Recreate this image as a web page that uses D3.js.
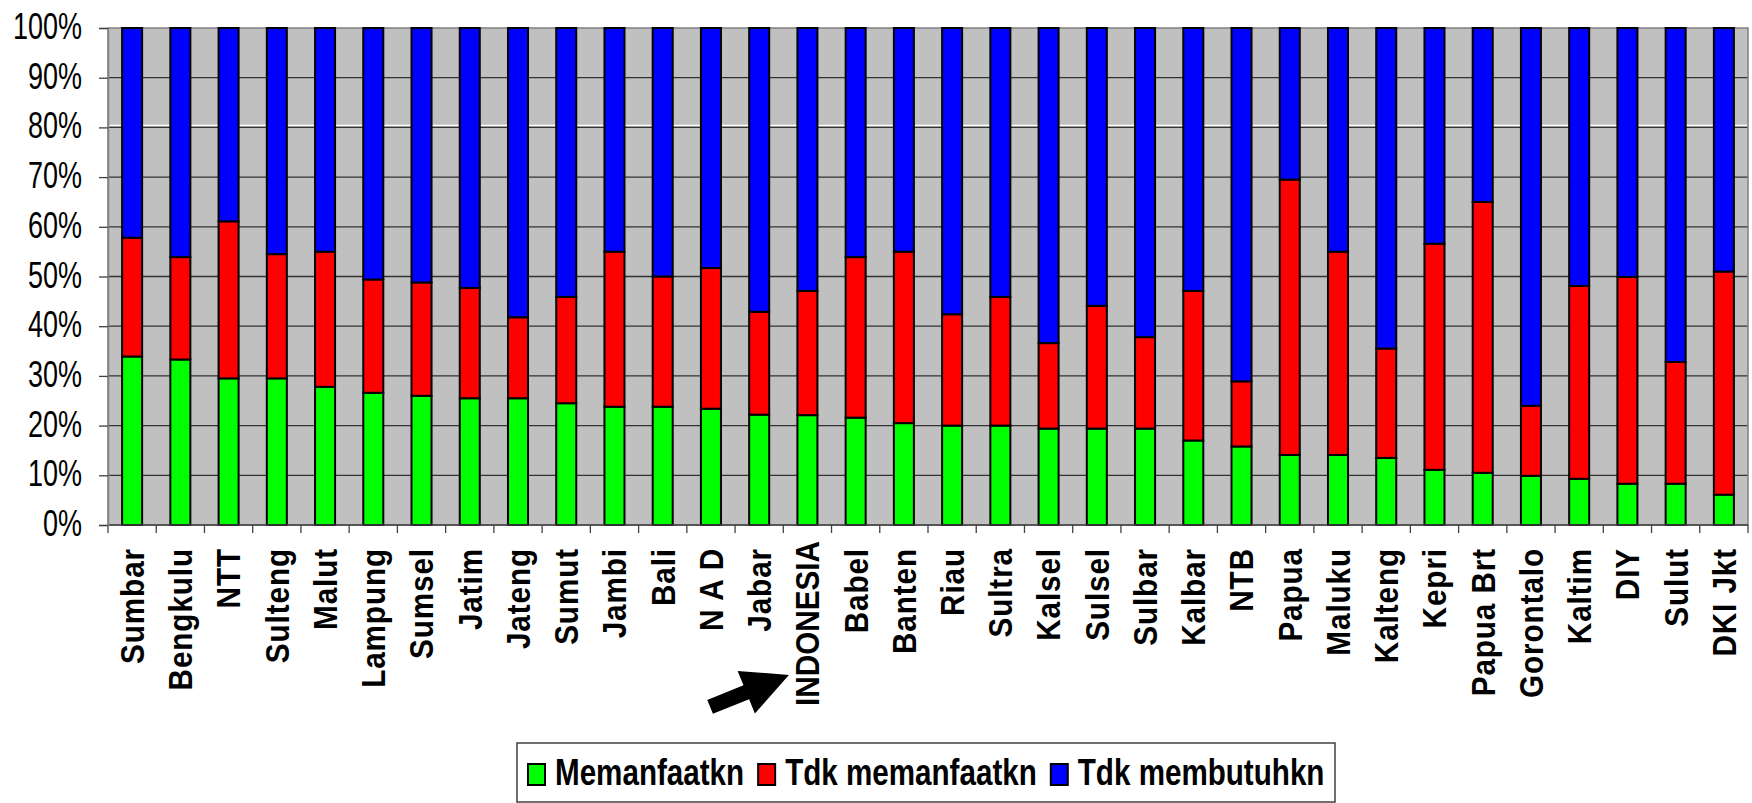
<!DOCTYPE html>
<html>
<head>
<meta charset="utf-8">
<script src="https://cdn.jsdelivr.net/npm/d3@7"></script>
<style>
  html, body { margin: 0; padding: 0; background: #ffffff; }
  svg { display: block; }
</style>
</head>
<body>
<svg id="chart" width="1752" height="803"></svg>
<script>
// ---------------- data ----------------
const categories = ["Sumbar","Bengkulu","NTT","Sulteng","Malut","Lampung","Sumsel","Jatim","Jateng","Sumut",
  "Jambi","Bali","N A D","Jabar","INDONESIA","Babel","Banten","Riau","Sultra","Kalsel","Sulsel","Sulbar",
  "Kalbar","NTB","Papua","Maluku","Kalteng","Kepri","Papua Brt","Gorontalo","Kaltim","DIY","Sulut","DKI Jkt"];
const memanfaatkn = [33.9,33.3,29.5,29.5,27.8,26.6,26.0,25.5,25.5,24.5,23.8,23.8,23.4,22.2,22.1,21.6,20.5,20.0,20.0,
  19.4,19.4,19.4,17.0,15.8,14.1,14.1,13.5,11.1,10.5,9.9,9.3,8.3,8.3,6.1];
const tdkMemanfaatkn = [23.9,20.6,31.6,25.0,27.2,22.8,22.8,22.2,16.3,21.4,31.2,26.2,28.3,20.7,25.0,32.3,34.5,22.4,25.9,
  17.2,24.7,18.4,30.1,13.1,55.4,40.9,22.0,45.5,54.5,14.1,38.8,41.6,24.5,44.9];
const tdkMembutuhkn = [42.2,46.1,38.9,45.5,45.0,50.6,51.2,52.3,58.2,54.1,45.0,50.0,48.3,57.1,52.9,46.1,45.0,57.6,54.1,
  63.4,55.9,62.2,52.9,71.1,30.5,45.0,64.5,43.4,35.0,76.0,51.9,50.1,67.2,49.0];
const seriesNames = ["Memanfaatkn","Tdk memanfaatkn","Tdk membutuhkn"];
const seriesColors = ["#00ff00","#ff0000","#0000ff"];
const yTickValues = [0,10,20,30,40,50,60,70,80,90,100];
const highlighted = "INDONESIA";

// ---------------- layout ----------------
const svg = d3.select("#chart");
const plot = {left: 108, right: 1748, top: 28, bottom: 525};
const FONT = "'Liberation Sans', Arial, Helvetica, sans-serif";

const rows = categories.map((c, i) => ({
  cat: c,
  "Memanfaatkn": memanfaatkn[i],
  "Tdk memanfaatkn": tdkMemanfaatkn[i],
  "Tdk membutuhkn": tdkMembutuhkn[i]
}));
const stacked = d3.stack().keys(seriesNames).offset(d3.stackOffsetExpand)(rows);

const x = d3.scaleBand().domain(categories).range([plot.left, plot.right])
  .paddingInner(0.585).paddingOuter(0.2925);
const y = d3.scaleLinear().domain([0, 1]).range([plot.bottom, plot.top]);
const yPct = d3.scaleLinear().domain([0, 100]).range([plot.bottom, plot.top]);
const step = x.step();

// plot background
svg.append("rect")
  .attr("x", plot.left).attr("y", plot.top)
  .attr("width", plot.right - plot.left).attr("height", plot.bottom - plot.top)
  .attr("fill", "#c0c0c0");

// gridlines
svg.append("g").selectAll("line")
  .data(yTickValues.filter(v => v > 0 && v < 100))
  .join("line")
  .attr("x1", plot.left).attr("x2", plot.right)
  .attr("y1", d => yPct(d)).attr("y2", d => yPct(d))
  .attr("stroke", "#333333").attr("stroke-width", 1.3);
// white highlight line just above 80%
svg.append("line")
  .attr("x1", plot.left).attr("x2", plot.right)
  .attr("y1", yPct(80) - 2).attr("y2", yPct(80) - 2)
  .attr("stroke", "#ffffff").attr("stroke-width", 1.2);

// plot border
svg.append("rect")
  .attr("x", plot.left).attr("y", plot.top)
  .attr("width", plot.right - plot.left).attr("height", plot.bottom - plot.top)
  .attr("fill", "none").attr("stroke", "#808080").attr("stroke-width", 1.5);

// bars
svg.append("g").selectAll("g")
  .data(stacked)
  .join("g")
  .attr("fill", (d, i) => seriesColors[i])
  .selectAll("rect")
  .data(d => d)
  .join("rect")
  .attr("x", d => x(d.data.cat))
  .attr("width", x.bandwidth())
  .attr("y", d => y(d[1]))
  .attr("height", d => y(d[0]) - y(d[1]))
  .attr("stroke", "#000000")
  .attr("stroke-width", 2);

// x axis line & tick marks at band boundaries
svg.append("line")
  .attr("x1", plot.left).attr("x2", plot.right)
  .attr("y1", plot.bottom).attr("y2", plot.bottom)
  .attr("stroke", "#404040").attr("stroke-width", 1.5);
svg.append("g").selectAll("line")
  .data(d3.range(categories.length + 1))
  .join("line")
  .attr("x1", i => plot.left + i * step).attr("x2", i => plot.left + i * step)
  .attr("y1", plot.bottom).attr("y2", plot.bottom + 8)
  .attr("stroke", "#404040").attr("stroke-width", 1.3);

// y axis
const yAxis = d3.axisLeft(yPct).tickValues(yTickValues).tickSize(9).tickPadding(0)
  .tickFormat(d => d + "%");
const gy = svg.append("g").attr("transform", `translate(${plot.left},0)`).call(yAxis);
gy.select(".domain").attr("stroke", "#808080").attr("stroke-width", 1.5);
gy.selectAll(".tick line").attr("stroke", "#404040").attr("stroke-width", 1.3);
gy.selectAll(".tick text")
  .attr("font-family", FONT).attr("font-size", 36).attr("fill", "#000")
  .attr("text-anchor", "end")
  .attr("x", -(plot.left - 82) / 0.75)
  .attr("dy", 10.5)
  .attr("transform", "scale(0.75,1)");

// x category labels (rotated)
svg.append("g").selectAll("text")
  .data(categories)
  .join("text")
  .attr("transform", d => `translate(${x(d) + x.bandwidth() / 2},${d === highlighted ? 541 : 548}) rotate(-90) scale(0.9,1)`)
  .attr("text-anchor", "end")
  .attr("dy", "0.36em")
  .attr("font-family", FONT).attr("font-weight", "bold").attr("font-size", 33)
  .attr("letter-spacing", d => d === highlighted ? 0 : 1)
  .attr("fill", "#000")
  .text(d => d);

// arrow pointing at INDONESIA label
const tipX = x(highlighted) + x.bandwidth() / 2 - 18.5, tipY = 675;
const arrowLen = 85, ang = -22;
const tailX = tipX - arrowLen * Math.cos(ang * Math.PI / 180);
const tailY = tipY - arrowLen * Math.sin(ang * Math.PI / 180);
const ap = d3.path();
ap.moveTo(0, -7.5); ap.lineTo(39, -7.5); ap.lineTo(39, -23); ap.lineTo(arrowLen, 0);
ap.lineTo(39, 23); ap.lineTo(39, 7.5); ap.lineTo(0, 7.5); ap.closePath();
svg.append("path")
  .attr("d", ap.toString())
  .attr("transform", `translate(${tailX},${tailY}) rotate(${ang})`)
  .attr("fill", "#000");

// legend
const legend = svg.append("g");
legend.append("rect")
  .attr("x", 517).attr("y", 743).attr("width", 818).attr("height", 59)
  .attr("fill", "#ffffff").attr("stroke", "#404040").attr("stroke-width", 1.5);
let lx = 528;
seriesNames.forEach((name, i) => {
  legend.append("rect")
    .attr("x", lx).attr("y", 764).attr("width", 17).attr("height", 21)
    .attr("fill", seriesColors[i]).attr("stroke", "#000").attr("stroke-width", 2);
  const tx = lx + 27;
  const t = legend.append("text")
    .attr("transform", `translate(${tx},785) scale(0.8,1)`)
    .attr("font-family", FONT).attr("font-weight", "bold").attr("font-size", 37)
    .attr("fill", "#000")
    .text(name);
  const w = t.node().getComputedTextLength() * 0.8;
  lx = tx + w + 14;
});
</script>
</body>
</html>
